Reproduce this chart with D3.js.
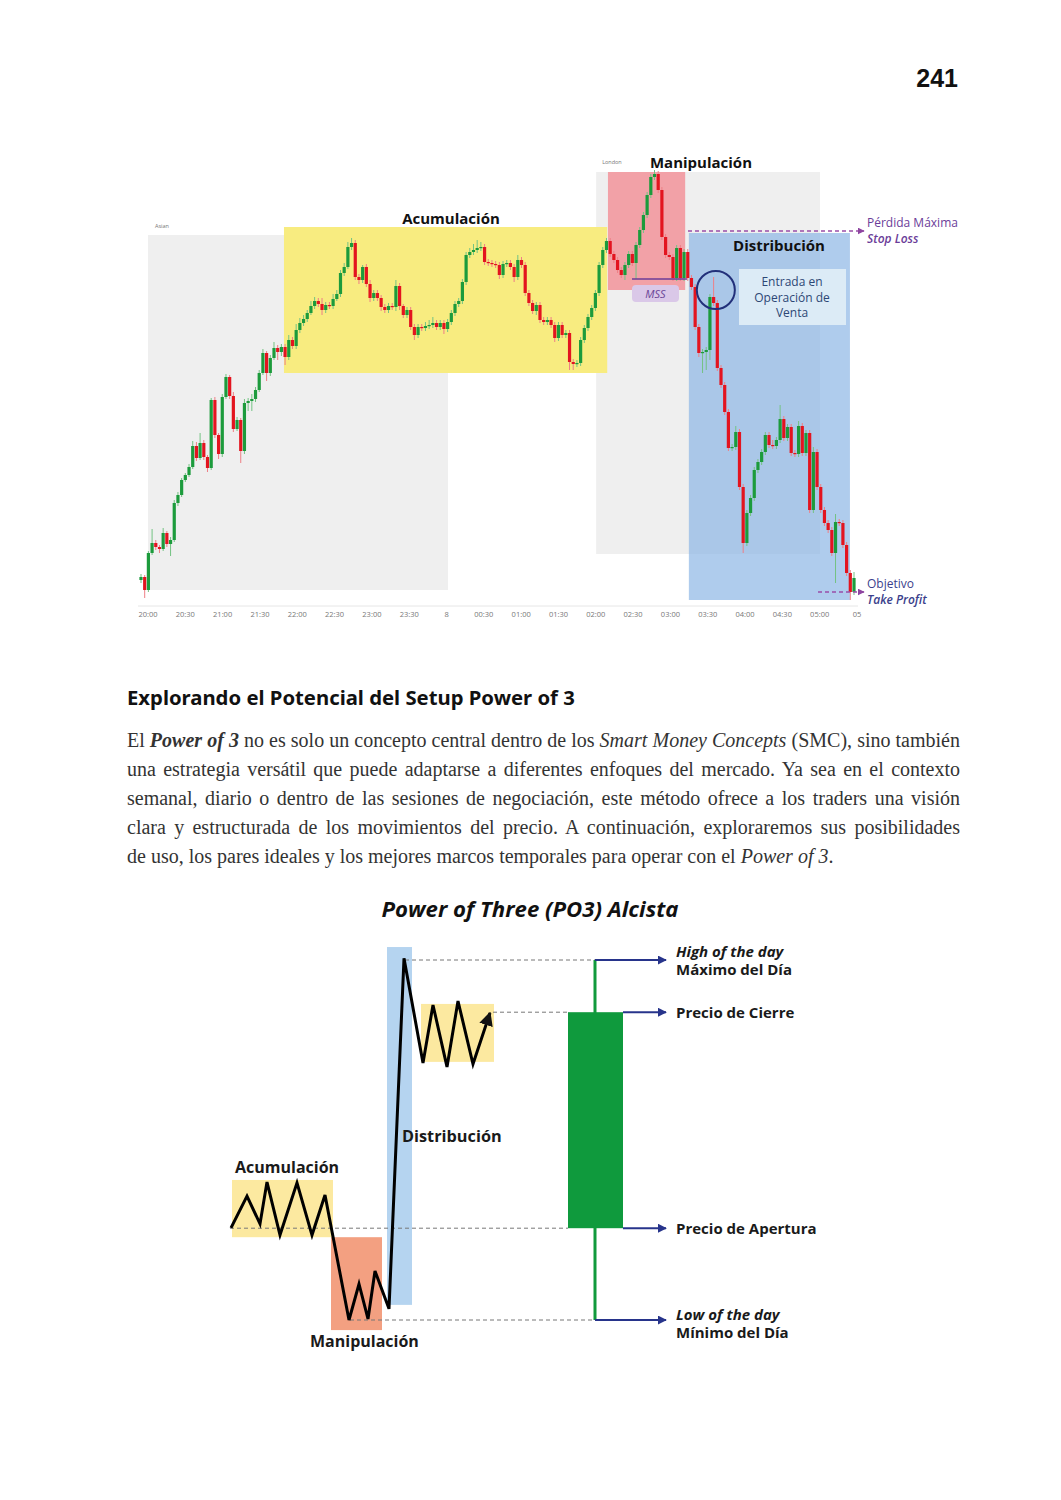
<!DOCTYPE html>
<html><head><meta charset="utf-8">
<script src="https://cdn.jsdelivr.net/npm/d3@7"></script>
<style>
body{margin:0;background:#fff;}
#page{position:relative;width:1061px;height:1500px;overflow:hidden;background:#fff;}
svg{position:absolute;left:0;top:0;}
.pl{position:absolute;left:127px;width:833px;font-family:"Liberation Serif","DejaVu Serif",serif;font-size:20px;line-height:20px;color:#333;text-align:justify;text-align-last:justify;white-space:nowrap;}
.pl.last{text-align-last:left;}
</style></head><body><div id="page"></div>
<script>
// ---------------- DATA ----------------
const timeLabels = ["20:00","20:30","21:00","21:30","22:00","22:30","23:00","23:30","8","00:30","01:00","01:30","02:00","02:30","03:00","03:30","04:00","04:30","05:00","05"];
const firstOpen = 20;
const closes = [
 23,10,47,57,53,51,67,56,60,97, 105,120,125,133,154,142,157,143,132,200, 165,146,203,223,204,171,180,149,197,199, 201,210,227,247,227,242,252,248,
 253,243,260,254,270,277,281,287,294,299, 296,290,295,294,301,306,327,333,353,357, 323,320,333,316,302,307,302,293,290,294, 293,314,294,285,290,273,265,273,272,274, 275,277,273,277,271,278,287,296,299,318, 345,
 348,350,352,353,338,337,336,335,325,336, 337,333,323,340,335,307,297,289,295,280, 278,280,275,262,275,265,267,238,236,237, 260,272,283,292,307,335,350,359,346,340, 330,325,335,346,337,355,370,385,405,423, 426,410,363,345,343,322,352,322,348,322,
 313,273,247,248,250,303,297,232,215,188, 152,153,168,113,57,87,102,130,138,148, 165,155,154,160,181,162,173,147,146,174, 147,167,90,148,113,90,77,70,47,78, 77,55,27,8,22
];
const wickHigh = [
 3,2,2,14,3,2,5,2,3,3, 3,2,2,3,5,4,10,3,2,2, 3,2,3,3,2,4,3,2,4,3, 5,3,3,4,2,3,6,3,
 3,3,5,3,6,5,4,3,5,4, 3,6,3,3,5,4,3,4,5,5, 3,3,2,3,4,3,3,3,3,3, 3,6,3,2,3,3,3,3,3,4, 5,6,3,3,3,3,3,3,3,3, 3,
 4,6,8,5,3,3,3,3,3,3, 3,3,3,5,3,3,3,3,3,3, 3,3,3,3,3,3,3,3,3,3, 3,3,3,3,3,3,3,3,3,3, 3,3,3,3,3,3,3,3,3,3, 4,3,3,3,3,3,3,3,3,3,
 3,3,3,3,3,3,20,3,3,3, 3,3,6,3,3,3,3,3,3,3, 3,3,5,3,14,3,3,3,3,5, 3,3,3,5,3,3,3,3,3,8, 3,3,3,3,6
];
const wickLow = [
 3,8,2,2,3,4,2,3,12,2, 3,2,2,2,2,3,2,3,4,2, 3,5,3,2,3,3,2,12,3,8, 10,3,2,2,8,3,2,8,
 4,8,3,3,3,3,3,3,2,3, 3,5,3,3,3,2,3,3,2,3, 3,4,3,3,4,3,3,4,3,3, 3,4,4,3,3,3,5,3,3,3, 3,3,3,3,5,3,3,3,3,3, 3,
 3,3,3,3,3,3,3,3,4,3, 3,3,5,3,3,3,3,3,4,3, 3,3,3,4,3,3,3,8,6,3, 3,3,3,3,3,3,3,3,3,3, 3,3,5,3,3,16,3,3,3,3, 3,3,3,3,3,3,3,3,3,3,
 3,3,4,20,18,10,3,3,3,3, 3,3,3,3,10,3,3,3,3,3, 3,3,3,3,3,3,3,3,3,3, 3,3,3,3,3,3,3,3,3,30, 3,3,3,8,3
];
// session / phase zones in data units (candle index, price)
const zoneNames  = ["Asian","London","Acumulación","Manipulación","Distribución"];
const zoneStart  = [1.9, 123.2, 38.7, 126.4, 148.3];
const zoneEnd    = [83.1, 183.8, 126.2, 147.3, 191.9];
const zoneTop    = [365, 428, 373, 428, 367];
const zoneBottom = [10, 46, 227, 310, 0];
const stopLossPrice = 369, takeProfitPrice = 8, mssPrice = 321;
const mssFrom = 132.9, mssTo = 147.8, entryIndex = 155.6, entryPrice = 310;

// PO3 schematic
const po3Path = [[1,25.6],[17,34.4],[30,26.7],[37,38.3],[50,23.6],[67,38.1],[82,23.6],[95,34.7],[119,0],[129,10],[138,0.3],[145,13.6],[159,3.1],[174,100.5],[193,71.4],[203,87.5],[217,70.3],[228,88.6],[243,71.1],[260,85.3]];
const po3BoxNames = ["Acumulación","Manipulación","Distribución","Rango"];
const po3BoxT0 = [2,101,157,191];
const po3BoxT1 = [103,152,182,264];
const po3BoxP0 = [23,-2.8,4.2,71.7];
const po3BoxP1 = [38.9,23,103.6,87.8];
const dayOpen = 25.5, dayClose = 85.5, dayHigh = 100, dayLow = 0;

// ---------------- DRAW ----------------
const svg = d3.select("#page").append("svg").attr("width",1061).attr("height",1500);
const defs = svg.append("defs");
function marker(id,color,w,h){
  defs.append("marker").attr("id",id).attr("viewBox","0 0 10 10").attr("refX",9).attr("refY",5)
   .attr("markerWidth",w).attr("markerHeight",h).attr("markerUnits","userSpaceOnUse").attr("orient","auto")
   .append("path").attr("d","M0,0L10,5L0,10Z").attr("fill",color);
}
marker("arP","#8e44a0",7,7);
marker("arN","#27348b",9,9);
marker("arK","#111",14,14);

svg.append("text").attr("x",958).attr("y",87).attr("text-anchor","end")
  .attr("font-family","Liberation Sans, Arial, sans-serif").attr("font-weight","bold").attr("font-size",25).attr("fill","#111").text("241");

// ----- Top chart -----
const x = d3.scaleLinear().domain([0, closes.length-1]).range([141, 854]);
const y = d3.scaleLinear().domain([0, 440]).range([600, 160]);
const g = svg.append("g");
const zoneFill = {"Asian":"#efefef","London":"#efefef","Acumulación":"#f8ec80","Manipulación":"#f2a1a7","Distribución":"#8db7e6"};
const zoneOp = {"Asian":1,"London":1,"Acumulación":1,"Manipulación":1,"Distribución":0.7};
const zones = zoneNames.map((n,i)=>({n,s:zoneStart[i],e:zoneEnd[i],t:zoneTop[i],b:zoneBottom[i]}));
g.selectAll("rect.zone").data(zones).join("rect").attr("class","zone")
  .attr("x",d=>x(d.s)).attr("width",d=>x(d.e)-x(d.s))
  .attr("y",d=>y(d.t)).attr("height",d=>y(d.b)-y(d.t))
  .attr("fill",d=>zoneFill[d.n]).attr("fill-opacity",d=>zoneOp[d.n]);

// session labels
g.append("text").attr("x",x(zoneStart[0])+7).attr("y",y(zoneTop[0])-7).attr("font-size",5.5).attr("fill","#777").attr("font-family","Open Sans, sans-serif").text("Asian");
g.append("text").attr("x",x(zoneStart[1])+6).attr("y",y(zoneTop[1])-8).attr("font-size",5.5).attr("fill","#777").attr("font-family","Open Sans, sans-serif").text("London");

// axis
const tx = d3.scalePoint().domain(timeLabels).range([148, 857]);
g.append("line").attr("x1",138).attr("x2",858).attr("y1",606).attr("y2",606).attr("stroke","#e6e6e6");
g.selectAll("text.tick").data(timeLabels).join("text").attr("class","tick")
  .attr("x",d=>tx(d)).attr("y",617).attr("text-anchor","middle").attr("font-size",7.5)
  .attr("font-family","Open Sans, sans-serif").attr("fill","#777").text(d=>d);

// candles
const candles = closes.map((c,i)=>{const o = i===0?firstOpen:closes[i-1];
  return {i,o,c,h:Math.max(o,c)+wickHigh[i],l:Math.min(o,c)-wickLow[i],up:c>=o};});
const cg = g.append("g");
cg.selectAll("line").data(candles).join("line")
  .attr("x1",d=>x(d.i)).attr("x2",d=>x(d.i)).attr("y1",d=>y(d.h)).attr("y2",d=>y(d.l))
  .attr("stroke",d=>d.up?"#74c383":"#ee7f86").attr("stroke-width",1);
cg.selectAll("rect").data(candles).join("rect")
  .attr("x",d=>x(d.i)-1.6).attr("width",3.2)
  .attr("y",d=>y(Math.max(d.o,d.c))).attr("height",d=>Math.max(1.2,Math.abs(y(d.o)-y(d.c))))
  .attr("fill",d=>d.up?"#1c9b3c":"#e3141f");

// MSS
g.append("line").attr("x1",x(mssFrom)).attr("x2",x(mssTo)).attr("y1",y(mssPrice)).attr("y2",y(mssPrice)).attr("stroke","#6d3d97").attr("stroke-width",1.5);
g.append("rect").attr("x",632).attr("y",285).attr("width",47).attr("height",17).attr("rx",4).attr("fill","#dac8e8");
g.append("text").attr("x",655.5).attr("y",298).attr("text-anchor","middle").attr("font-style","italic").attr("font-size",11).attr("fill","#6a4597").attr("font-family","Open Sans, sans-serif").text("MSS");

// entry box
g.append("rect").attr("x",739).attr("y",269).attr("width",107).attr("height",56).attr("fill","#dcebf6");
["Entrada en","Operación de","Venta"].forEach((t,k)=>{
  g.append("text").attr("x",792).attr("y",286+k*15.5).attr("text-anchor","middle").attr("font-size",12)
   .attr("font-family","Open Sans, sans-serif").attr("fill","#2d4775").text(t);
});
g.append("circle").attr("cx",x(entryIndex)).attr("cy",y(entryPrice)).attr("r",19).attr("fill","none").attr("stroke","#22307a").attr("stroke-width",2);

// SL / TP
g.append("line").attr("x1",688).attr("x2",864).attr("y1",y(stopLossPrice)).attr("y2",y(stopLossPrice))
  .attr("stroke","#9a4ea8").attr("stroke-width",1.4).attr("stroke-dasharray","4,3").attr("marker-end","url(#arP)");
g.append("line").attr("x1",818).attr("x2",864).attr("y1",y(takeProfitPrice)).attr("y2",y(takeProfitPrice))
  .attr("stroke","#9a4ea8").attr("stroke-width",1.4).attr("stroke-dasharray","4,3").attr("marker-end","url(#arP)");
const pf = "Open Sans, sans-serif";
g.append("text").attr("x",867).attr("y",227).attr("font-size",12).attr("fill","#6b3d99").attr("font-family",pf).text("Pérdida Máxima");
g.append("text").attr("x",867).attr("y",243).attr("font-size",12).attr("font-style","italic").attr("font-weight",600).attr("fill","#6b3d99").attr("font-family",pf).text("Stop Loss");
g.append("text").attr("x",867).attr("y",588).attr("font-size",12).attr("fill","#3b3f8c").attr("font-family",pf).text("Objetivo");
g.append("text").attr("x",867).attr("y",604).attr("font-size",12).attr("font-style","italic").attr("font-weight",600).attr("fill","#3b3f8c").attr("font-family",pf).text("Take Profit");

// phase labels
const lab = (tx_,ty,t,anchor)=>g.append("text").attr("x",tx_).attr("y",ty).attr("text-anchor",anchor||"middle")
  .attr("font-size",15).attr("font-weight","bold").attr("font-family",pf).attr("fill","#111").text(t);
lab(451,224,"Acumulación");
lab(701,168,"Manipulación");
lab(779,251,"Distribución");

// heading
svg.append("text").attr("x",127).attr("y",705).attr("font-size",20.3).attr("font-weight","bold")
  .attr("font-family","Noto Sans, sans-serif").attr("fill","#111").text("Explorando el Potencial del Setup Power of 3");

// paragraph
const lines = [
 'El <b><i>Power of 3</i></b> no es solo un concepto central dentro de los <i>Smart Money Concepts</i> (SMC), sino también',
 'una estrategia versátil que puede adaptarse a diferentes enfoques del mercado. Ya sea en el contexto',
 'semanal, diario o dentro de las sesiones de negociación, este método ofrece a los traders una visión',
 'clara y estructurada de los movimientos del precio. A continuación, exploraremos sus posibilidades',
 'de uso, los pares ideales y los mejores marcos temporales para operar con el <i>Power of 3</i>.'
];
lines.forEach((l,i)=>{
  d3.select("#page").append("div").attr("class","pl"+(i===lines.length-1?" last":""))
    .style("top",(730+i*29)+"px").html(l);
});

// ----- PO3 diagram -----
const dx = d3.scaleLinear().domain([0,500]).range([230,730]);
const dy = d3.scaleLinear().domain([0,100]).range([1320,960]);
const dg = svg.append("g");
dg.append("text").attr("x",530).attr("y",917).attr("text-anchor","middle").attr("font-size",22.2)
  .attr("font-weight","bold").attr("font-style","italic").attr("font-family",pf).attr("fill","#111").text("Power of Three (PO3) Alcista");
const boxFill = {"Acumulación":"#fce9a0","Manipulación":"#f3a081","Distribución":"#b5d4f0","Rango":"#fce9a0"};
dg.selectAll("rect.pb").data(po3BoxNames).join("rect").attr("class","pb")
  .attr("x",(d,i)=>dx(po3BoxT0[i])).attr("width",(d,i)=>dx(po3BoxT1[i])-dx(po3BoxT0[i]))
  .attr("y",(d,i)=>dy(po3BoxP1[i])).attr("height",(d,i)=>dy(po3BoxP0[i])-dy(po3BoxP1[i]))
  .attr("fill",d=>boxFill[d]);
// dashed guide lines
const wickT = 365, bodyT0 = 338, bodyT1 = 393, arrowT = 436;
const guides = [[175,wickT,dayHigh],[263,bodyT0,dayClose],[0,bodyT0,dayOpen],[120,wickT,dayLow]];
dg.selectAll("line.gd").data(guides).join("line").attr("class","gd")
  .attr("x1",d=>dx(d[0])).attr("x2",d=>dx(d[1])).attr("y1",d=>dy(d[2])).attr("y2",d=>dy(d[2]))
  .attr("stroke","#777").attr("stroke-width",1).attr("stroke-dasharray","4,3");
// candle
dg.append("line").attr("x1",dx(wickT)).attr("x2",dx(wickT)).attr("y1",dy(dayHigh)).attr("y2",dy(dayLow)).attr("stroke","#119a3c").attr("stroke-width",3);
dg.append("rect").attr("x",dx(bodyT0)).attr("width",dx(bodyT1)-dx(bodyT0)).attr("y",dy(dayClose)).attr("height",dy(dayOpen)-dy(dayClose)).attr("fill","#0f9a3d");
// arrows
const arrows = [[wickT,dayHigh],[bodyT1,dayClose],[bodyT1,dayOpen],[wickT,dayLow]];
dg.selectAll("line.ar").data(arrows).join("line").attr("class","ar")
  .attr("x1",d=>dx(d[0])).attr("x2",dx(arrowT)).attr("y1",d=>dy(d[1])).attr("y2",d=>dy(d[1]))
  .attr("stroke","#27348b").attr("stroke-width",2).attr("marker-end","url(#arN)");
// zigzag
dg.append("path").attr("d",d3.line().x(d=>dx(d[0])).y(d=>dy(d[1]))(po3Path))
  .attr("fill","none").attr("stroke","#000").attr("stroke-width",3).attr("stroke-linejoin","miter").attr("marker-end","url(#arK)");
// labels
const dl = (xx,yy,t,it,fs)=>dg.append("text").attr("x",xx).attr("y",yy).attr("font-size",fs||15).attr("font-weight","bold")
  .attr("font-style",it?"italic":"normal").attr("font-family",pf).attr("fill","#1a1a1a").text(t);
dl(676,957,"High of the day",true);
dl(676,975,"Máximo del Día");
dl(676,1018,"Precio de Cierre");
dl(676,1234,"Precio de Apertura");
dl(676,1320,"Low of the day",true);
dl(676,1338,"Mínimo del Día");
dl(235,1173,"Acumulación",false,16);
dl(402,1142,"Distribución",false,16.3);
dl(310,1347,"Manipulación",false,16);
</script></body></html>
